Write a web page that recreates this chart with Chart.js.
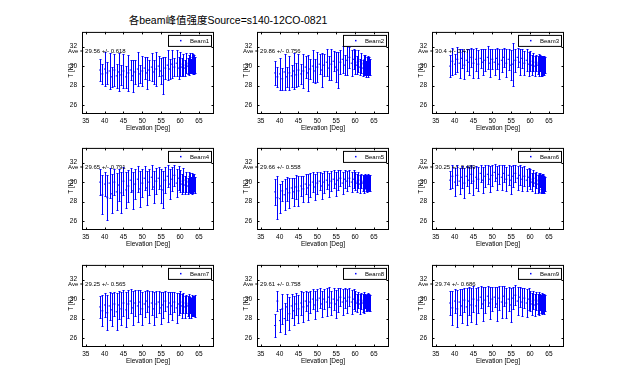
<!DOCTYPE html>
<html>
<head>
<meta charset="utf-8">
<script src="https://cdn.jsdelivr.net/npm/chart.js@4.4.0/dist/chart.umd.min.js"></script>
<style>
    body { margin: 0; background: #fff; }
    #wrap { position: relative; width: 624px; height: 391px; overflow: hidden; }
    #title {
        position: absolute; left: 0; top: 12px; width: 456px; text-align: center;
        font: 10.5px "Liberation Sans", Arial, "Noto Sans CJK SC", sans-serif; color: #000; white-space: nowrap;
    }
    canvas { position: absolute; }
</style>
</head>
<body>
<div id="wrap">
    <div id="title">各beam峰值强度Source=s140-12CO-0821</div>
</div>
<script>
//data
const elevation = [
    38.8, 39.4, 40.1, 40.7, 41.3, 41.9, 42.6, 43.2, 43.8, 44.4, 45.0, 45.7, 46.3,
    46.9, 47.5, 48.1, 48.8, 49.4, 50.0, 50.6, 51.2, 51.8, 52.5, 53.1, 53.7, 54.3,
    54.9, 55.5, 56.1, 56.7, 57.3, 57.9, 58.5, 59.1, 59.6, 60.1, 60.5, 60.9, 61.3,
    61.7, 62.0, 62.3, 62.5, 62.7, 62.9, 63.1, 63.2, 63.35, 63.5, 63.6, 63.75, 63.9
];

const beamNames = ['Beam1', 'Beam2', 'Beam3', 'Beam4', 'Beam5', 'Beam6', 'Beam7', 'Beam8', 'Beam9'];
const aveTexts  = [
    'Ave = 29.56 +/- 0.618', 'Ave = 29.86 +/- 0.756', 'Ave = 30.4 +/- 0.47',
    'Ave = 29.65 +/- 0.791', 'Ave = 29.66 +/- 0.558', 'Ave = 30.25 +/- 0.489',
    'Ave = 29.25 +/- 0.565', 'Ave = 29.61 +/- 0.758', 'Ave = 29.74 +/- 0.686'
];

const xTicks = [35, 40, 45, 50, 55, 60, 65];
const yTicks = [26, 28, 30, 32];

const mean1 = [
    29.6, 29.2, 29.7, 29.3, 29.5, 28.9, 29.6, 29.0, 29.4, 29.1, 29.5, 28.9, 29.3,
    29.6, 29.0, 29.4, 29.7, 29.2, 29.5, 29.8, 29.3, 29.6, 29.9, 29.4, 29.7, 30.0,
    29.5, 29.0, 29.8, 30.1, 29.7, 30.2, 29.9, 30.3, 29.8, 30.2, 29.9, 30.1, 29.8,
    30.3, 30.0, 30.2, 29.9, 30.3, 30.0, 30.4, 30.1, 30.3, 29.9, 30.2, 30.0, 30.1
];
const err1 = [
    1.1, 1.0, 1.7, 1.1, 1.8, 1.0, 1.6, 1.2, 1.9, 1.0, 1.7, 1.1, 1.8,
    1.0, 1.6, 1.2, 1.7, 0.9, 1.5, 1.1, 1.6, 1.0, 1.4, 1.2, 1.7, 1.0,
    1.3, 1.9, 1.1, 1.5, 1.0, 1.4, 0.9, 1.3, 1.1, 1.2, 0.9, 1.1, 0.8,
    1.0, 0.8, 0.9, 0.8, 1.0, 0.7, 0.9, 0.8, 0.9, 0.7, 0.9, 0.8, 0.8
];
const mean2 = [
    29.3, 28.9, 29.2, 28.7, 29.4, 28.9, 29.3, 29.0, 29.5, 29.1, 29.6, 29.2, 29.5,
    29.9, 29.3, 29.7, 30.0, 29.5, 29.9, 30.2, 29.6, 30.1, 30.4, 29.8, 30.2, 30.5,
    29.9, 29.6, 30.4, 30.7, 30.1, 30.6, 30.9, 30.3, 30.7, 30.4, 30.1, 30.5, 29.9,
    30.3, 29.8, 30.2, 29.9, 30.1, 29.7, 30.0, 29.8, 30.1, 29.7, 30.0, 29.8, 29.9
];
const err2 = [
    1.2, 1.0, 1.6, 1.1, 1.8, 1.0, 1.7, 1.1, 1.8, 1.2, 1.6, 1.0, 1.7,
    1.1, 1.8, 1.0, 1.6, 1.2, 1.5, 1.0, 1.7, 1.1, 1.4, 1.2, 1.6, 1.0,
    1.5, 1.8, 1.2, 1.4, 1.0, 1.5, 1.1, 1.3, 1.0, 1.2, 0.9, 1.1, 0.8,
    1.0, 0.8, 0.9, 0.8, 1.0, 0.8, 0.9, 0.7, 0.9, 0.8, 0.9, 0.7, 0.8
];
const mean3 = [
    30.0, 30.5, 30.2, 30.7, 30.3, 30.8, 30.1, 30.6, 30.4, 30.9, 30.3, 30.7, 30.2,
    30.8, 30.4, 30.6, 30.9, 30.3, 30.7, 30.4, 30.8, 30.2, 30.6, 30.9, 30.3, 30.7,
    30.1, 30.2, 30.6, 30.9, 30.4, 30.8, 30.3, 30.6, 30.2, 30.5, 30.1, 30.4, 30.0,
    30.3, 30.1, 30.4, 29.9, 30.3, 30.0, 30.2, 29.9, 30.3, 30.0, 30.2, 29.9, 30.1
];
const err3 = [
    1.1, 1.4, 1.0, 1.3, 1.5, 1.0, 1.4, 1.1, 1.3, 1.0, 1.5, 1.2, 1.4,
    1.0, 1.3, 1.1, 1.2, 1.4, 1.0, 1.3, 1.1, 1.5, 1.2, 1.0, 1.4, 1.1,
    1.5, 2.2, 1.2, 1.0, 1.3, 1.0, 1.2, 1.1, 1.2, 1.0, 1.0, 0.9, 1.0,
    0.8, 0.9, 0.8, 0.9, 0.8, 1.0, 0.8, 0.9, 0.7, 0.9, 0.8, 0.8, 0.8
];
const mean4 = [
    30.0, 28.7, 29.8, 28.4, 29.9, 28.8, 30.0, 29.0, 29.7, 28.9, 30.1, 29.2, 29.6,
    30.2, 29.1, 29.8, 30.3, 29.3, 29.9, 30.4, 29.4, 30.0, 30.5, 29.5, 30.1, 30.4,
    29.6, 29.2, 30.2, 30.6, 29.8, 30.3, 30.7, 29.9, 30.4, 30.1, 29.8, 30.2, 29.7,
    30.0, 29.6, 30.1, 29.8, 29.9, 29.7, 30.0, 29.6, 29.9, 29.7, 30.0, 29.8, 29.7
];
const err4 = [
    1.3, 2.0, 1.2, 2.3, 1.5, 2.0, 1.3, 1.9, 1.6, 2.1, 1.4, 1.8, 1.6,
    1.2, 1.9, 1.5, 1.3, 1.8, 1.4, 1.2, 1.7, 1.3, 1.2, 1.6, 1.3, 1.1,
    1.7, 1.9, 1.3, 1.1, 1.5, 1.2, 1.1, 1.4, 1.2, 1.1, 1.0, 1.2, 0.9,
    1.0, 0.8, 0.9, 0.8, 1.0, 0.8, 0.9, 0.8, 0.9, 0.8, 0.8, 0.7, 0.8
];
const mean5 = [
    29.0, 28.4, 28.3, 29.1, 28.7, 29.3, 28.9, 29.4, 29.0, 29.5, 29.1, 29.6, 29.3,
    29.8, 29.4, 29.7, 30.0, 29.5, 29.9, 30.1, 29.6, 30.0, 30.2, 29.7, 30.1, 30.3,
    29.8, 30.2, 30.4, 29.9, 30.3, 30.1, 30.4, 30.0, 30.3, 30.1, 29.9, 30.2, 29.8,
    30.1, 29.9, 30.0, 29.8, 30.1, 29.9, 30.0, 29.8, 30.1, 29.9, 30.0, 29.8, 29.9
];
const err5 = [
    1.3, 2.2, 1.5, 1.0, 1.6, 1.2, 1.5, 1.0, 1.4, 1.2, 1.5, 1.0, 1.3,
    1.0, 1.4, 1.2, 1.0, 1.3, 1.1, 0.9, 1.3, 1.1, 0.9, 1.2, 1.0, 0.9,
    1.2, 1.0, 0.8, 1.1, 0.9, 1.0, 0.8, 1.0, 0.9, 0.9, 0.9, 0.8, 0.9,
    0.7, 0.8, 0.7, 0.9, 0.7, 0.8, 0.7, 0.8, 0.7, 0.8, 0.7, 0.7, 0.8
];
const mean6 = [
    30.2, 30.6, 30.0, 30.7, 30.1, 30.5, 29.9, 30.6, 30.2, 30.8, 30.1, 30.5, 30.3,
    30.9, 30.2, 30.6, 30.8, 30.3, 30.7, 31.0, 30.4, 30.8, 30.5, 30.9, 30.3, 30.7,
    30.2, 30.6, 30.9, 30.4, 30.7, 30.3, 30.6, 30.2, 30.5, 30.3, 30.0, 30.4, 29.9,
    30.2, 29.8, 30.1, 29.9, 30.2, 29.8, 30.0, 29.7, 30.1, 29.8, 29.9, 29.7, 29.8
];
const err6 = [
    0.9, 1.2, 1.4, 1.0, 1.3, 1.1, 1.5, 1.0, 1.3, 0.9, 1.4, 1.1, 1.2,
    0.9, 1.3, 1.1, 1.0, 1.3, 1.1, 0.9, 1.2, 1.0, 1.3, 0.9, 1.2, 1.0,
    1.4, 1.1, 0.9, 1.2, 1.0, 1.2, 1.0, 1.1, 0.9, 1.0, 0.9, 0.8, 1.0,
    0.8, 0.9, 0.8, 0.9, 0.7, 0.9, 0.8, 0.8, 0.7, 0.9, 0.7, 0.8, 0.7
];
const mean7 = [
    29.2, 28.8, 29.4, 28.6, 29.3, 28.9, 29.5, 28.7, 29.4, 29.0, 29.6, 28.9, 29.5,
    29.8, 29.1, 29.6, 29.3, 29.7, 29.0, 29.5, 29.8, 29.2, 29.6, 29.0, 29.5, 29.7,
    29.1, 29.4, 29.8, 29.2, 29.6, 29.3, 29.7, 29.1, 29.5, 29.7, 29.3, 29.6, 29.2,
    29.5, 29.3, 29.6, 29.2, 29.4, 29.1, 29.5, 29.2, 29.4, 29.3, 29.5, 29.2, 29.3
];
const err7 = [
    1.1, 1.6, 1.2, 1.8, 1.4, 1.7, 1.2, 1.9, 1.4, 1.7, 1.3, 1.8, 1.4,
    1.2, 1.7, 1.3, 1.6, 1.2, 1.7, 1.3, 1.1, 1.6, 1.2, 1.7, 1.3, 1.1,
    1.6, 1.3, 1.0, 1.5, 1.1, 1.4, 1.0, 1.5, 1.1, 1.1, 1.2, 1.0, 1.1,
    0.9, 1.0, 0.9, 1.1, 0.8, 1.0, 0.9, 0.9, 0.8, 1.0, 0.8, 0.9, 1.1
];
const mean8 = [
    27.3, 29.8, 27.8, 29.0, 28.0, 29.2, 28.5, 29.3, 28.8, 29.5, 29.0, 29.6, 29.2,
    29.8, 29.3, 29.7, 30.0, 29.4, 29.9, 30.1, 29.5, 30.0, 29.7, 30.2, 29.6, 30.0,
    29.5, 29.9, 30.2, 29.7, 30.1, 29.8, 30.2, 29.7, 30.0, 29.8, 29.6, 29.9, 29.5,
    29.8, 29.6, 29.9, 29.5, 29.8, 29.6, 29.7, 29.5, 29.8, 29.6, 29.7, 29.5, 29.6
];
const err8 = [
    1.2, 1.0, 1.2, 1.5, 1.6, 1.3, 1.7, 1.2, 1.5, 1.1, 1.4, 1.2, 1.5,
    1.0, 1.4, 1.1, 1.0, 1.4, 1.1, 1.0, 1.3, 1.0, 1.4, 1.0, 1.2, 1.1,
    1.4, 1.2, 0.9, 1.3, 1.0, 1.2, 0.9, 1.2, 1.0, 1.0, 0.9, 0.8, 1.0,
    0.8, 0.9, 0.8, 0.9, 0.7, 0.8, 0.8, 0.7, 0.8, 0.7, 0.8, 0.7, 0.8
];
const mean9 = [
    29.6, 29.1, 29.8, 29.0, 29.7, 29.3, 29.9, 29.2, 29.8, 29.4, 30.0, 29.3, 29.9,
    30.2, 29.5, 29.9, 30.3, 29.6, 30.0, 30.2, 29.5, 30.1, 29.7, 30.3, 29.6, 30.0,
    29.4, 30.1, 30.4, 29.8, 30.2, 29.7, 30.1, 29.6, 30.0, 29.8, 29.5, 29.9, 29.4,
    29.8, 29.5, 29.9, 29.4, 29.7, 29.5, 29.8, 29.4, 29.7, 29.5, 29.8, 29.4, 29.6
];
const err9 = [
    1.2, 1.7, 1.2, 1.9, 1.3, 1.7, 1.2, 1.9, 1.4, 1.7, 1.3, 1.8, 1.3,
    1.1, 1.7, 1.3, 1.0, 1.6, 1.2, 1.0, 1.7, 1.2, 1.6, 1.0, 1.5, 1.2,
    1.7, 1.1, 1.0, 1.4, 1.0, 1.4, 1.0, 1.4, 1.1, 1.0, 1.1, 0.9, 1.1,
    0.9, 1.0, 0.8, 1.0, 0.8, 0.9, 0.8, 0.9, 0.8, 0.9, 0.7, 0.9, 0.8
];

const beamMeans = [mean1, mean2, mean3, mean4, mean5, mean6, mean7, mean8, mean9];
const beamErrs  = [err1, err2, err3, err4, err5, err6, err7, err8, err9];

//color / font
const blue  = '#0000FF';
const black = '#000000';
const fontFamily = '"Liberation Sans", Arial, sans-serif';

//layout of the 3x3 grid (axes boxes)
const colLeft = [82, 257, 432];
const rowTop  = [29, 145, 262];
const plotW = 132, plotH = 85;
const padL = 30, padT = 6, padR = 6, padB = 32;

// error bars, drawn with the chart's own scales
const errorBars = {
    id: 'errorBars',
    beforeDatasetsDraw(chart) {
        const ctx = chart.ctx, xs = chart.scales.x, ys = chart.scales.y, a = chart.chartArea;
        const ds = chart.data.datasets[0];
        ctx.save();
        ctx.beginPath();
        ctx.rect(a.left, a.top, a.right - a.left, a.bottom - a.top);
        ctx.clip();
        ctx.strokeStyle = blue;
        ctx.lineWidth = 1;
        ctx.beginPath();
        ds.data.forEach((p, i) => {
            const e = ds.errors[i];
            const px = Math.round(xs.getPixelForValue(p.x)) + 0.5;
            const top = Math.round(ys.getPixelForValue(p.y + e)) + 0.5;
            const bot = Math.round(ys.getPixelForValue(p.y - e)) + 0.5;
            ctx.moveTo(px, top); ctx.lineTo(px, bot);
            ctx.moveTo(px - 1, top); ctx.lineTo(px + 1, top);
            ctx.moveTo(px - 1, bot); ctx.lineTo(px + 1, bot);
        });
        ctx.stroke();
        ctx.restore();
    }
};

// matlab style box, inward ticks, legend, texts
const matlabFrame = {
    id: 'matlabFrame',
    afterDraw(chart) {
        const ctx = chart.ctx, xs = chart.scales.x, ys = chart.scales.y, a = chart.chartArea;
        const info = chart.data.datasets[0];
        ctx.save();
        ctx.strokeStyle = black;
        ctx.lineWidth = 1;
        ctx.strokeRect(a.left + 0.5, a.top + 0.5, a.right - a.left - 1, a.bottom - a.top - 1);

        ctx.beginPath();
        xTicks.forEach(v => {
            const px = Math.round(xs.getPixelForValue(v)) + 0.5;
            ctx.moveTo(px, a.bottom); ctx.lineTo(px, a.bottom - 2.5);
            ctx.moveTo(px, a.top); ctx.lineTo(px, a.top + 2.5);
        });
        yTicks.forEach(v => {
            const py = Math.round(ys.getPixelForValue(v)) + 0.5;
            ctx.moveTo(a.left, py); ctx.lineTo(a.left + 2.5, py);
            ctx.moveTo(a.right, py); ctx.lineTo(a.right - 2.5, py);
        });
        ctx.stroke();

        //legend
        const lw = 43, lh = 11;
        const lx = a.right - 3 - lw, ly = a.top + 3;
        ctx.fillStyle = '#fff';
        ctx.fillRect(lx, ly, lw, lh);
        ctx.strokeRect(lx + 0.5, ly + 0.5, lw, lh);
        ctx.fillStyle = blue;
        ctx.fillRect(lx + 12, ly + 5, 1.5, 1.5);
        ctx.fillStyle = black;
        ctx.font = '6px ' + fontFamily;
        ctx.textAlign = 'left';
        ctx.textBaseline = 'middle';
        ctx.fillText(info.label, lx + 22, ly + lh / 2 + 1);

        //average text
        ctx.font = '6px ' + fontFamily;
        ctx.fillText(info.ave, xs.getPixelForValue(30.3), ys.getPixelForValue(31.5));

        //axis titles
        ctx.font = '6.5px ' + fontFamily;
        ctx.textAlign = 'center';
        ctx.fillText('Elevation [Deg]', (a.left + a.right) / 2, a.bottom + 14);
        ctx.save();
        ctx.translate(a.left - 11, a.top + 39);
        ctx.rotate(-Math.PI / 2);
        ctx.fillText('T [K]', 0, 0);
        ctx.restore();
        ctx.restore();
    }
};

const wrap = document.getElementById('wrap');

beamNames.forEach((name, k) => {
    const col = k % 3, row = Math.floor(k / 3);
    const canvas = document.createElement('canvas');
    canvas.width = padL + plotW + padR;
    canvas.height = padT + plotH + padB;
    canvas.style.left = (colLeft[col] - padL) + 'px';
    canvas.style.top = (rowTop[row] - padT) + 'px';
    canvas.style.width = canvas.width + 'px';
    canvas.style.height = canvas.height + 'px';
    wrap.appendChild(canvas);

    const points = elevation.map((el, i) => ({ x: el, y: beamMeans[k][i] }));

    var ctx = canvas.getContext('2d');
    new Chart(ctx, {
        type: 'scatter',
        plugins: [errorBars, matlabFrame],
        data: {
            datasets: [{
                label: name,
                ave: aveTexts[k],
                errors: beamErrs[k],
                data: points,
                pointStyle: 'line',
                pointRadius: 1,
                borderColor: blue,
                backgroundColor: blue,
                borderWidth: 1,
            }]
        },
        options: {
            responsive: false,
            animation: false,
            devicePixelRatio: 1,
            layout: { padding: { left: 0, top: padT, right: padR, bottom: 0 } },
            plugins: {
                legend: { display: false },
                tooltip: { enabled: false },
            },
            scales: {
                x: {
                    type: 'linear',
                    min: 34,
                    max: 69,
                    afterBuildTicks: s => { s.ticks = xTicks.map(v => ({ value: v })); },
                    afterFit: s => { s.height = padB; },
                    grid: { display: false, drawTicks: false },
                    border: { display: false },
                    ticks: {
                        color: black,
                        padding: 3,
                        maxRotation: 0,
                        autoSkip: false,
                        font: { size: 6.5, family: fontFamily },
                    },
                },
                y: {
                    type: 'linear',
                    min: 25.1,
                    max: 33.5,
                    afterBuildTicks: s => { s.ticks = yTicks.map(v => ({ value: v })); },
                    afterFit: s => { s.width = padL; },
                    grid: { display: false, drawTicks: false },
                    border: { display: false },
                    ticks: {
                        color: black,
                        padding: 5,
                        autoSkip: false,
                        font: { size: 6.5, family: fontFamily },
                    },
                }
            }
        }
    });
});
</script>
</body>
</html>
